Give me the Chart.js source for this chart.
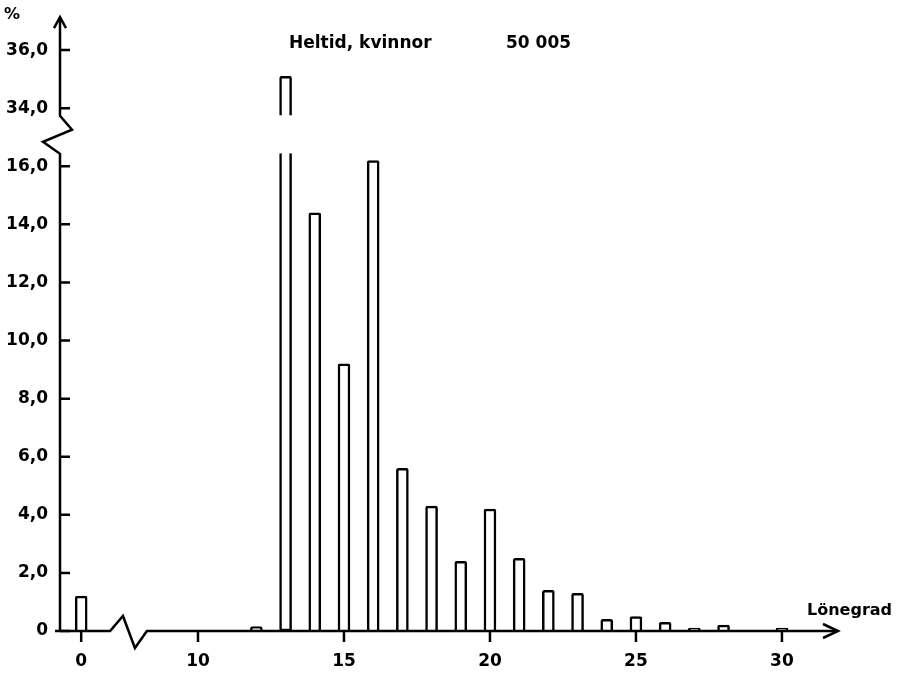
<!DOCTYPE html>
<html lang="sv">
<head>
<meta charset="UTF-8">
<title>Heltid, kvinnor - Lönegrad</title>
<script src="https://cdn.jsdelivr.net/npm/chart.js"></script>
<style>
  body { margin: 0; background: #fff; }
  #wrap { width: 897px; height: 678px; }
</style>
</head>
<body>
<div id="wrap"><canvas id="lonegrad" width="897" height="678"></canvas></div>
<script>
// share of employees (%) per salary grade
const grades = [0, 12, 13, 14, 15, 16, 17, 18, 19, 20, 21, 22, 23, 24, 25, 26, 27, 28, 29, 30];
const shares = [1.2, 0.15, 35.1, 14.4, 9.2, 16.2, 5.6, 4.3, 2.4, 4.2, 2.5, 1.4, 1.3, 0.4, 0.5, 0.3, 0.1, 0.2, null, 0.1];
const xTickValues = [0, 10, 15, 20, 25, 30];
const yTickValues = [0, 2, 4, 6, 8, 10, 12, 14, 16, 34, 36];

// axis breaks: grade 0 sits left of the x zigzag, 16..34 % is cut out of the y axis
const xZeroPos = 6;
const yCutAbove = 17, yCutShift = 16;   // 34 -> 18, 36 -> 20
const yGapLow = 16.45, yGapHigh = 17.75; // open gap in the broken bar

const toX = g => (g === 0 ? xZeroPos : g);
const toY = v => (v > yCutAbove ? v - yCutShift : v);

const lowerBars = grades.map((g, i) => ({
    x: toX(g),
    y: shares[i] !== null && shares[i] > yCutAbove ? [0, yGapLow] : shares[i]
}));
const upperBars = grades
    .map((g, i) => (shares[i] > yCutAbove ? { x: toX(g), y: [yGapHigh, toY(shares[i])] } : null))
    .filter(Boolean);

const FONT = 'DejaVu Sans';

const brokenAxes = {
    id: 'brokenAxes',
    afterDatasetsDraw(chart) {
        const { ctx, chartArea: a, scales: { x, y } } = chart;
        const y0 = y.getPixelForValue(0);
        const ax = a.left;
        const tip = a.top - 5;
        ctx.save();
        ctx.strokeStyle = '#000';
        ctx.lineWidth = 2.5;

        // x axis with zigzag break
        ctx.beginPath();
        ctx.moveTo(ax - 5, y0);
        ctx.lineTo(x.getPixelForValue(6.99), y0);
        ctx.lineTo(x.getPixelForValue(7.43), y0 - 15);
        ctx.lineTo(x.getPixelForValue(7.84), y0 + 17);
        ctx.lineTo(x.getPixelForValue(8.25), y0);
        ctx.lineTo(a.right, y0);
        ctx.stroke();
        ctx.beginPath();
        ctx.moveTo(a.right - 15, y0 - 7);
        ctx.lineTo(a.right, y0);
        ctx.lineTo(a.right - 15, y0 + 7);
        ctx.stroke();

        // y axis with zigzag break
        ctx.beginPath();
        ctx.moveTo(ax, y0);
        ctx.lineTo(ax, y.getPixelForValue(16.43));
        ctx.lineTo(ax - 17, y.getPixelForValue(16.84));
        ctx.lineTo(ax + 12, y.getPixelForValue(17.26));
        ctx.lineTo(ax, y.getPixelForValue(17.74));
        ctx.lineTo(ax, tip);
        ctx.stroke();
        ctx.beginPath();
        ctx.moveTo(ax - 6, tip + 11);
        ctx.lineTo(ax, tip);
        ctx.lineTo(ax + 6, tip + 11);
        ctx.stroke();

        // tick marks
        ctx.beginPath();
        yTickValues.forEach(v => {
            const py = y.getPixelForValue(toY(v));
            ctx.moveTo(ax, py);
            ctx.lineTo(ax + 10, py);
        });
        xTickValues.forEach(v => {
            const px = x.getPixelForValue(toX(v));
            ctx.moveTo(px, y0);
            ctx.lineTo(px, y0 + 11);
        });
        ctx.stroke();

        // texts
        ctx.fillStyle = '#000';
        ctx.textBaseline = 'alphabetic';
        ctx.textAlign = 'left';
        ctx.font = `bold 16px "${FONT}"`;
        ctx.fillText('%', 4, 19);
        ctx.font = `bold 17px "${FONT}"`;
        ctx.fillText('Heltid, kvinnor', 289, 48);
        ctx.fillText('50 005', 506, 48);
        ctx.font = `bold 16px "${FONT}"`;
        ctx.fillText('Lönegrad', 807, 615);
        ctx.restore();
    }
};

const barStyle = {
    backgroundColor: '#ffffff',
    borderColor: '#000000',
    borderWidth: 2.5,
    borderRadius: 2,
    barThickness: 12,
    grouped: false
};

new Chart(document.getElementById('lonegrad'), {
    type: 'bar',
    data: {
        datasets: [
            {
                ...barStyle,
                data: lowerBars,
                borderSkipped: c => (Array.isArray(c.raw && c.raw.y) ? 'end' : 'start')
            },
            {
                ...barStyle,
                data: upperBars,
                borderSkipped: 'start'
            }
        ]
    },
    options: {
        responsive: false,
        animation: false,
        layout: { padding: { top: 10, right: 59, left: 0, bottom: 0 } },
        plugins: { legend: { display: false }, tooltip: { enabled: false } },
        scales: {
            x: {
                type: 'linear',
                offset: false,
                min: 5.274,
                max: 31.92,
                grid: { display: false, drawTicks: false },
                border: { display: false },
                afterBuildTicks: s => { s.ticks = xTickValues.map(v => ({ value: toX(v) })); },
                afterFit: s => { s.height = 47; },
                ticks: {
                    padding: 20,
                    color: '#000',
                    maxRotation: 0,
                    autoSkip: false,
                    font: { family: FONT, size: 17, weight: 'bold' },
                    callback: v => String(xTickValues.find(t => toX(t) === v))
                }
            },
            y: {
                min: 0,
                max: 20.96,
                grid: { display: false, drawTicks: false },
                border: { display: false },
                afterBuildTicks: s => { s.ticks = yTickValues.map(v => ({ value: toY(v) })); },
                afterFit: s => { s.width = 60; },
                ticks: {
                    padding: 12,
                    color: '#000',
                    autoSkip: false,
                    font: { family: FONT, size: 17, weight: 'bold' },
                    callback: v => {
                        const real = yTickValues.find(t => toY(t) === v);
                        return real === 0 ? '0' : real.toFixed(1).replace('.', ',');
                    }
                }
            }
        }
    },
    plugins: [brokenAxes]
});
</script>
</body>
</html>
